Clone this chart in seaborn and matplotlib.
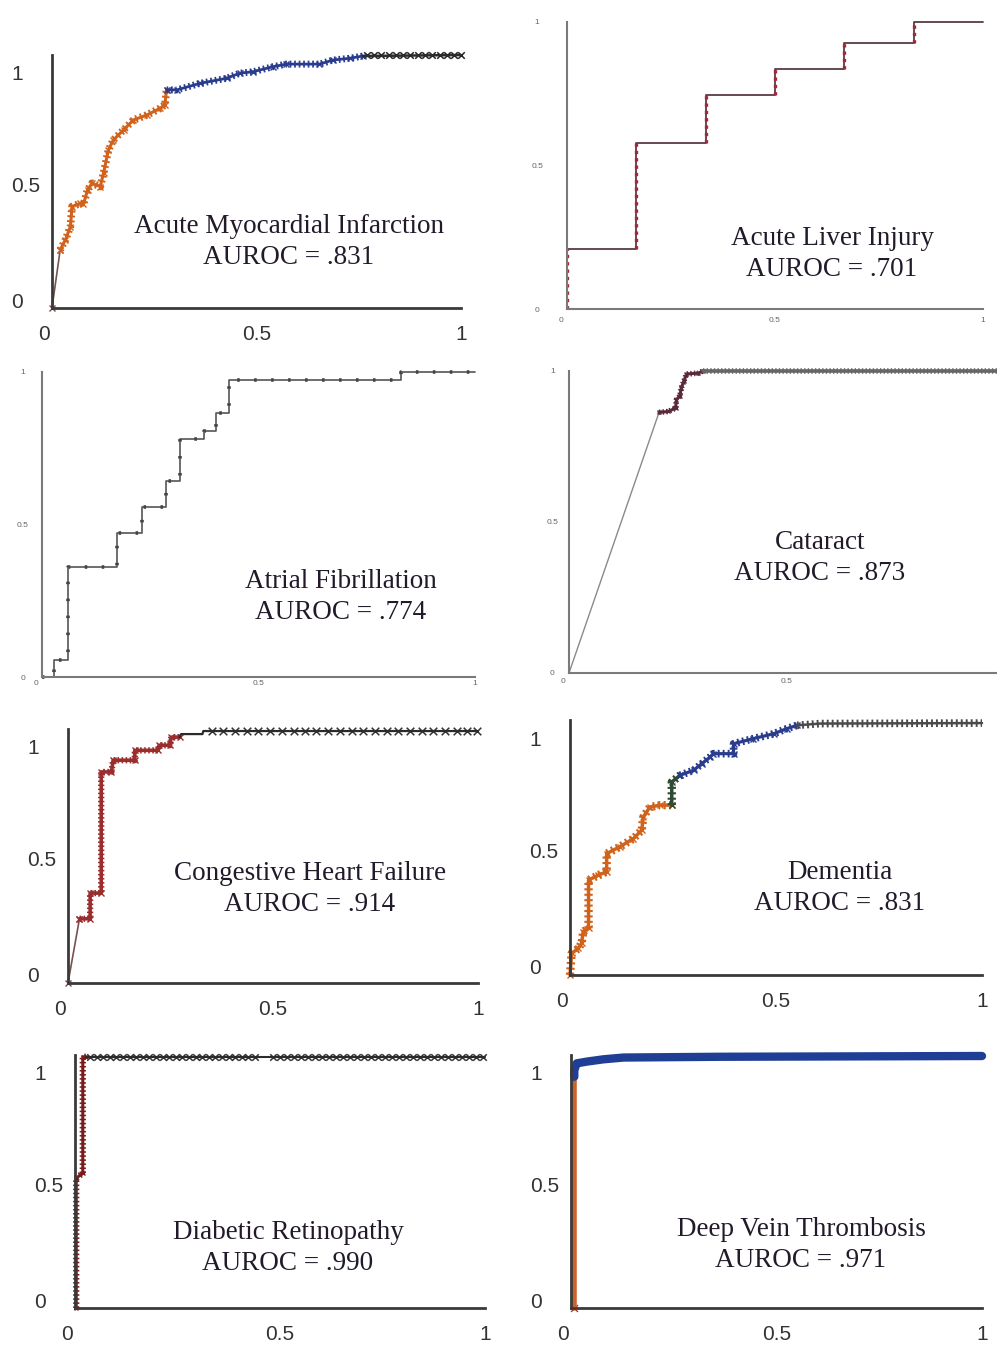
import matplotlib
matplotlib.use("Agg")
import matplotlib.pyplot as plt
import matplotlib.transforms as mtransforms
import seaborn as sns

# ROC points: false positive rate / true positive rate
ami_fpr = [0, 0.02, 0.033, 0.045, 0.049, 0.069, 0.077, 0.087, 0.098, 0.118, 0.126,
           0.138, 0.15, 0.175, 0.199, 0.232, 0.264, 0.276, 0.28, 0.305, 0.362, 0.427,
           0.459, 0.492, 0.541, 0.573, 0.654, 0.687, 0.728, 0.76, 1.0]
ami_tpr = [0, 0.23, 0.27, 0.322, 0.401, 0.414, 0.41, 0.467, 0.493, 0.48, 0.533,
           0.625, 0.664, 0.704, 0.743, 0.763, 0.789, 0.803, 0.862, 0.862, 0.888, 0.908,
           0.928, 0.934, 0.954, 0.964, 0.964, 0.98, 0.987, 0.996, 1.0]

ali_fpr = [0, 0, 0.167, 0.167, 0.333, 0.333, 0.5, 0.5, 0.667, 0.667, 0.833, 0.833, 1.0]
ali_tpr = [0, 0.21, 0.21, 0.579, 0.579, 0.745, 0.745, 0.835, 0.835, 0.928, 0.928, 1.0, 1.0]

af_fpr = [0, 0.027, 0.027, 0.06, 0.06, 0.173, 0.173, 0.231, 0.231, 0.287, 0.287,
          0.318, 0.318, 0.373, 0.373, 0.402, 0.402, 0.432, 0.432, 0.829, 0.829, 1.0]
af_tpr = [0, 0, 0.055, 0.055, 0.361, 0.361, 0.473, 0.473, 0.557, 0.557, 0.642,
          0.642, 0.779, 0.779, 0.807, 0.807, 0.866, 0.866, 0.975, 0.975, 1.0, 1.0]

cat_fpr = [0, 0.207, 0.228, 0.245, 0.247, 0.255, 0.258, 0.264, 0.270, 0.297, 0.308, 1.0]
cat_tpr = [0, 0.863, 0.866, 0.877, 0.905, 0.918, 0.944, 0.966, 0.99, 0.993, 1.0, 1.0]

chf_fpr = [0, 0.028, 0.054, 0.054, 0.081, 0.081, 0.106, 0.11, 0.163, 0.163, 0.22,
           0.222, 0.248, 0.252, 0.272, 0.276, 0.328, 0.33, 1.0]
chf_tpr = [0, 0.253, 0.253, 0.354, 0.354, 0.831, 0.831, 0.877, 0.877, 0.916, 0.916,
           0.936, 0.936, 0.968, 0.968, 0.98, 0.98, 0.992, 0.992]

dem_fpr = [0, 0.004, 0.02, 0.028, 0.032, 0.045, 0.045, 0.069, 0.089, 0.089, 0.121,
           0.154, 0.174, 0.178, 0.194, 0.219, 0.247, 0.247, 0.267, 0.3, 0.32, 0.34,
           0.348, 0.397, 0.397, 0.445, 0.494, 0.526, 0.551, 0.607, 1.0]
dem_tpr = [0, 0.085, 0.104, 0.124, 0.17, 0.183, 0.372, 0.392, 0.405, 0.476, 0.503,
           0.535, 0.568, 0.62, 0.659, 0.666, 0.666, 0.757, 0.783, 0.803, 0.829, 0.855,
           0.868, 0.868, 0.907, 0.927, 0.946, 0.966, 0.979, 0.986, 0.988]

dr_fpr = [0.003, 0.003, 0.019, 0.019, 0.028, 1.0]
dr_tpr = [0, 0.513, 0.533, 0.993, 0.993, 0.993]

dvt_fpr = [0.008, 0.008, 0.008, 0.014, 0.039, 0.079, 0.128, 0.363, 1.0]
dvt_tpr = [0, 0.914, 0.94, 0.967, 0.974, 0.983, 0.99, 0.993, 0.996]

# individual threshold markers visible along the flat tops
ami_top_fpr = [0.769, 0.787, 0.805, 0.823, 0.841, 0.859, 0.876, 0.894, 0.912, 0.930,
               0.948, 0.966, 0.984, 1.0]
ami_top_tpr = 1.0
chf_top_fpr = [0.350, 0.379, 0.407, 0.436, 0.464, 0.493, 0.521, 0.550, 0.578, 0.606,
               0.635, 0.663, 0.692, 0.720, 0.749, 0.777, 0.806, 0.834, 0.863, 0.891,
               0.920, 0.948, 0.973, 0.997]
chf_top_tpr = 0.992
dr_top_fpr = [0.037, 0.053, 0.069, 0.085, 0.101, 0.117, 0.133, 0.149, 0.165, 0.181,
              0.198, 0.214, 0.230, 0.246, 0.262, 0.278, 0.294, 0.310, 0.326, 0.342,
              0.359, 0.375, 0.391, 0.407, 0.423, 0.439,
              0.483, 0.500, 0.517, 0.534, 0.551, 0.568, 0.585, 0.602, 0.620, 0.637,
              0.654, 0.671, 0.688, 0.705, 0.722, 0.739, 0.756, 0.773, 0.790, 0.807,
              0.824, 0.841, 0.859, 0.876, 0.893, 0.910, 0.927, 0.944, 0.961, 0.978, 0.995]
dr_top_tpr = 0.993

diseases = ["Acute Myocardial Infarction", "Acute Liver Injury", "Atrial Fibrillation",
            "Cataract", "Congestive Heart Failure", "Dementia",
            "Diabetic Retinopathy", "Deep Vein Thrombosis"]
aurocs = [".831", ".701", ".774", ".873", ".914", ".831", ".990", ".971"]
tick_vals = [0, 0.5, 1]
tick_labels = ["0", "0.5", "1"]

curves = [(ami_fpr, ami_tpr), (ali_fpr, ali_tpr), (af_fpr, af_tpr), (cat_fpr, cat_tpr),
          (chf_fpr, chf_tpr), (dem_fpr, dem_tpr), (dr_fpr, dr_tpr), (dvt_fpr, dvt_tpr)]
top_marks = {0: (ami_top_fpr, ami_top_tpr, "#222222"),
             4: (chf_top_fpr, chf_top_tpr, "#333333"),
             6: (dr_top_fpr, dr_top_tpr, "#333333")}

# ---- styling / layout ----
ORANGE = "#d0621c"
BLUE = "#2a3c8e"
RED = "#8e2424"
DARK = "#2b2b2b"
GREEN = "#2f4a30"
THIN = "#7a5050"

# segment styles: (start, end, color, lw, vertex marker, markersize, comb overlay lw)
seg_styles = [
    [(0, 1, THIN, 1.2, "x", 5, 0), (1, 18, ORANGE, 2.2, "x", 5, 5.5),
     (18, 29, BLUE, 2.0, "x", 5, 5.0), (29, 30, DARK, 1.8, None, 0, 0)],
    [(0, 12, "#5b3b44", 1.3, None, 0, 0)],
    [(0, 21, "#555555", 1.2, None, 0, 0)],
    [(0, 1, "#8a8a8a", 1.0, None, 0, 0), (1, 10, "#5a2a3a", 2.2, "x", 3, 4.0),
     (10, 11, "#666666", 2.6, None, 0, 4.0)],
    [(0, 1, THIN, 1.2, "x", 5, 0), (1, 14, "#9b2d2d", 2.6, "x", 4, 4.5),
     (14, 18, DARK, 1.6, None, 0, 0)],
    [(0, 16, ORANGE, 2.5, "x", 5, 6.0), (16, 18, GREEN, 2.5, "x", 5, 6.0),
     (18, 28, BLUE, 2.3, "x", 5, 5.5), (28, 30, "#4a4a4a", 1.8, None, 0, 5.5)],
    [(0, 4, "#7a1c1c", 2.2, "x", 3, 4.5), (4, 5, DARK, 1.5, None, 0, 0)],
    [(0, 1, "#c8632a", 4.0, None, 0, 0), (1, 8, "#1f3e96", 6.0, None, 0, 0)],
]

# pixel boxes of the plotting areas: x(0), x(1), y(1), y(0)
boxes = [(52, 461, 55, 308), (567, 983, 22, 309), (42, 475, 372, 677), (569, 1004, 371, 673),
         (68, 478, 729, 983), (570, 982, 720, 975), (75, 485, 1055, 1308), (571, 982, 1055, 1308)]
text_centers = [(289, 242), (832, 254), (341, 597), (820, 558),
                (310, 889), (840, 888), (288, 1248), (801, 1245)]
big_labels = [True, False, False, False, True, True, True, True]
small_pads = {1: (21.5, 5.5), 2: (13.7, 2.0), 3: (12.0, 3.5)}

W, H = 997, 1347
sns.set_style("white")
plt.rcParams["font.family"] = ["Liberation Serif", "DejaVu Serif"]
TICK_FONT = ["Liberation Sans", "DejaVu Sans"]

fig = plt.figure(figsize=(W / 100, H / 100), dpi=100)


def shift(label, dx, dy):
    label.set_transform(label.get_transform() + mtransforms.ScaledTranslation(
        dx / fig.dpi, -dy / fig.dpi, fig.dpi_scale_trans))


for i, (fpr, tpr) in enumerate(curves):
    x0, x1, ytop, ybot = boxes[i]
    ax = fig.add_axes([x0 / W, 1 - ybot / H, (x1 - x0) / W, (ybot - ytop) / H])
    ax.set_facecolor("none")

    for (s, e, col, lw, mk, ms, comb) in seg_styles[i]:
        xs, ys = fpr[s:e + 1], tpr[s:e + 1]
        sns.lineplot(x=xs, y=ys, ax=ax, color=col, lw=lw,
                     estimator=None, sort=False, errorbar=None, marker=mk,
                     markersize=ms, mec=col, mew=1.0, clip_on=False)
        if comb:
            # dense threshold markers look like a serrated band in the scan
            sns.lineplot(x=xs, y=ys, ax=ax, color=col, lw=comb, estimator=None,
                         sort=False, errorbar=None, linestyle=(0, (0.25, 0.4)),
                         dash_capstyle="butt", clip_on=False)

    if i == 1:
        # dotted red points stacked along the vertical jumps
        for k in range(len(fpr) - 1):
            if fpr[k] == fpr[k + 1]:
                ax.vlines(fpr[k], tpr[k], tpr[k + 1], colors="#a3283c",
                          linestyles=(0, (1, 1.2)), lw=2.4)
    if i == 2:
        sns.lineplot(x=fpr, y=tpr, ax=ax, color="#444444", lw=2.6, estimator=None,
                     sort=False, errorbar=None, linestyle=(0, (0.7, 4.0)),
                     dash_capstyle="butt", clip_on=False)
    if i in top_marks:
        mx, my, mcol = top_marks[i]
        sns.scatterplot(x=mx, y=[my] * len(mx), ax=ax, marker="x", color=mcol,
                        s=30 if i == 4 else 22, linewidth=1.1, clip_on=False)
    if i == 7:
        sns.scatterplot(x=fpr[:1], y=tpr[:1], ax=ax, marker="x", color="#c03030",
                        s=25, linewidth=1, clip_on=False)

    ax.set_xlim(0, 1)
    ax.set_ylim(0, 1)
    ax.set_xlabel("")
    ax.set_ylabel("")
    for side in ["top", "right"]:
        ax.spines[side].set_visible(False)
    spine_col = "#3a3a3a" if big_labels[i] else "#7a7a7a"
    for side in ["left", "bottom"]:
        ax.spines[side].set_color(spine_col)
        ax.spines[side].set_linewidth(2.0 if big_labels[i] else 1.5)

    ax.set_xticks(tick_vals)
    ax.set_yticks(tick_vals)
    ax.set_xticks([0.5], minor=True)
    ax.set_yticks([0.5], minor=True)
    ax.tick_params(which="minor", length=5, width=1.2, color=spine_col, direction="out")

    if big_labels[i]:
        ax.set_xticklabels(tick_labels, fontsize=15, family=TICK_FONT, color="#333333")
        ax.set_yticklabels(tick_labels, fontsize=15, family=TICK_FONT, color="#333333")
        ax.tick_params(axis="y", which="major", length=0, pad=29.5)
        ax.tick_params(axis="x", which="major", length=0, pad=12)
        ylabs = ax.get_yticklabels()
        for lab in ylabs:
            lab.set_horizontalalignment("left")
        shift(ylabs[0], 0, -8)
        shift(ylabs[1], 0, 3)
        shift(ylabs[2], 0, 18)
        shift(ax.get_xticklabels()[0], -8, 0)
    else:
        ypad, xpad = small_pads[i]
        ax.set_xticklabels(tick_labels, fontsize=6, family=TICK_FONT, color="#666666")
        ax.set_yticklabels(tick_labels, fontsize=6, family=TICK_FONT, color="#666666")
        ax.tick_params(axis="y", which="major", length=0, pad=ypad)
        ax.tick_params(axis="x", which="major", length=0, pad=xpad)
        for lab in ax.get_yticklabels():
            lab.set_horizontalalignment("center")
        shift(ax.get_xticklabels()[0], -6, 0)
        if x1 > W:
            # the "1" of this panel falls outside the scanned page
            ax.get_xticklabels()[2].set_visible(False)

    cx, cy = text_centers[i]
    fig.text(cx / W, 1 - cy / H, f"{diseases[i]}\nAUROC = {aurocs[i]}",
             ha="center", va="center", fontsize=19.5, color="#221a2a",
             linespacing=1.3, family=["Liberation Serif", "DejaVu Serif"])

fig.savefig("out.png", dpi=100)
